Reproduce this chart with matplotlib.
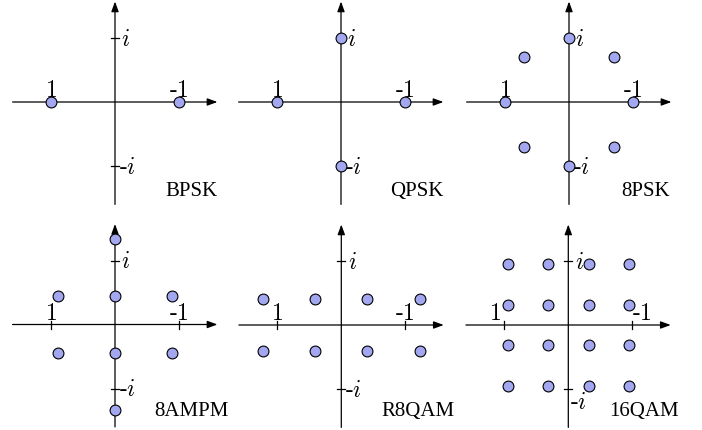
import matplotlib
matplotlib.use("Agg")
import matplotlib.pyplot as plt

plt.rcParams['mathtext.fontset'] = 'cm'

# ---- data ----
names = ["BPSK", "QPSK", "8PSK", "8AMPM", "R8QAM", "16QAM"]

bpsk_re = [1, -1]
bpsk_im = [0, 0]

qpsk_re = [1, 0, -1, 0]
qpsk_im = [0, 1, 0, -1]

psk8_re = [1, 0.707, 0, -0.707, -1, -0.707, 0, 0.707]
psk8_im = [0, 0.707, 1, 0.707, 0, -0.707, -1, -0.707]

ampm8_re = [0.894, 0, -0.894, 0.894, 0, -0.894, 0, 0]
ampm8_im = [0.447, 0.447, 0.447, -0.447, -0.447, -0.447, 1.342, -1.342]

r8qam_re = [1.225, 0.408, -0.408, -1.225, 1.225, 0.408, -0.408, -1.225]
r8qam_im = [0.408, 0.408, 0.408, 0.408, -0.408, -0.408, -0.408, -0.408]

qam16_levels = [0.949, 0.316, -0.316, -0.949]
qam16_re = [x for y in qam16_levels for x in qam16_levels]
qam16_im = [y for y in qam16_levels for x in qam16_levels]

series = [(bpsk_re, bpsk_im), (qpsk_re, qpsk_im), (psk8_re, psk8_im),
          (ampm8_re, ampm8_im), (r8qam_re, r8qam_im), (qam16_re, qam16_im)]

tick_labels = [r"$1$", r"$\text{-}1$", r"$i$", r"$\text{-}i$"]

# ---- layout ----
W, H = 702, 431
S = 64.0  # pixels per unit
origins = [(115, 103), (341, 103), (569, 103),
           (115, 325.5), (341.3, 326), (568.3, 326)]

fig = plt.figure(figsize=(W / 100, H / 100), dpi=100)

XL, YL = 1.8, 1.75
fill = '#a3a7f0'
lab_fs = 17
title_fs = 15

for k, (name, (re, im), (ox, oy)) in enumerate(zip(names, series, origins)):
    left = (ox - XL * S) / W
    bottom = (H - oy - YL * S) / H
    ax = fig.add_axes([left, bottom, 2 * XL * S / W, 2 * YL * S / H])
    ax.set_xlim(XL, -XL)   # inverted: "1" on the left
    ax.set_ylim(-YL, YL)
    ax.axis('off')

    # axes with arrows
    ax.annotate('', xy=(-1.6, 0), xytext=(1.6, 0),
                arrowprops=dict(arrowstyle='-|>,head_length=0.6,head_width=0.22',
                                lw=0.9, color='black', shrinkA=0, shrinkB=0),
                annotation_clip=False)
    ax.annotate('', xy=(0, 1.57), xytext=(0, -1.6),
                arrowprops=dict(arrowstyle='-|>,head_length=0.6,head_width=0.22',
                                lw=0.9, color='black', shrinkA=0, shrinkB=0),
                annotation_clip=False)
    # ticks
    t = 4 / S
    for v in (1, -1):
        ax.plot([v, v], [-t, t], color='black', lw=0.9, clip_on=False)
        ax.plot([-t, t], [v, v], color='black', lw=0.9, clip_on=False)

    # tick labels
    if name == "16QAM":
        ax.text(1 + 3 / S, 0.09, tick_labels[0], ha='right', va='baseline', fontsize=lab_fs)
        ax.text(-1, 0.09, tick_labels[1], ha='left', va='baseline', fontsize=lab_fs)
        ax.text(-0.11, 1, tick_labels[2], ha='left', va='center', fontsize=lab_fs)
        ax.text(-0.02, -1, tick_labels[3], ha='left', va='top', fontsize=lab_fs)
    else:
        ax.text(1, 0.09, tick_labels[0], ha='center', va='baseline', fontsize=lab_fs)
        ax.text(-1, 0.09, tick_labels[1], ha='center', va='baseline', fontsize=lab_fs)
        ax.text(-0.1, 1, tick_labels[2], ha='left', va='center', fontsize=lab_fs)
        ax.text(-0.06, -1, tick_labels[3], ha='left', va='center', fontsize=lab_fs)

    # constellation points
    ax.plot(re, im, linestyle='none', marker='o', markersize=7.8,
            markerfacecolor=fill, markeredgecolor='black', markeredgewidth=0.8,
            clip_on=False, zorder=5)

    # name
    ty = -1.46 if k < 3 else -1.41
    ax.text(-1.19, ty, name, ha='center', va='baseline', fontsize=title_fs,
            family='Liberation Serif')

fig.savefig('out.png', dpi=100)
